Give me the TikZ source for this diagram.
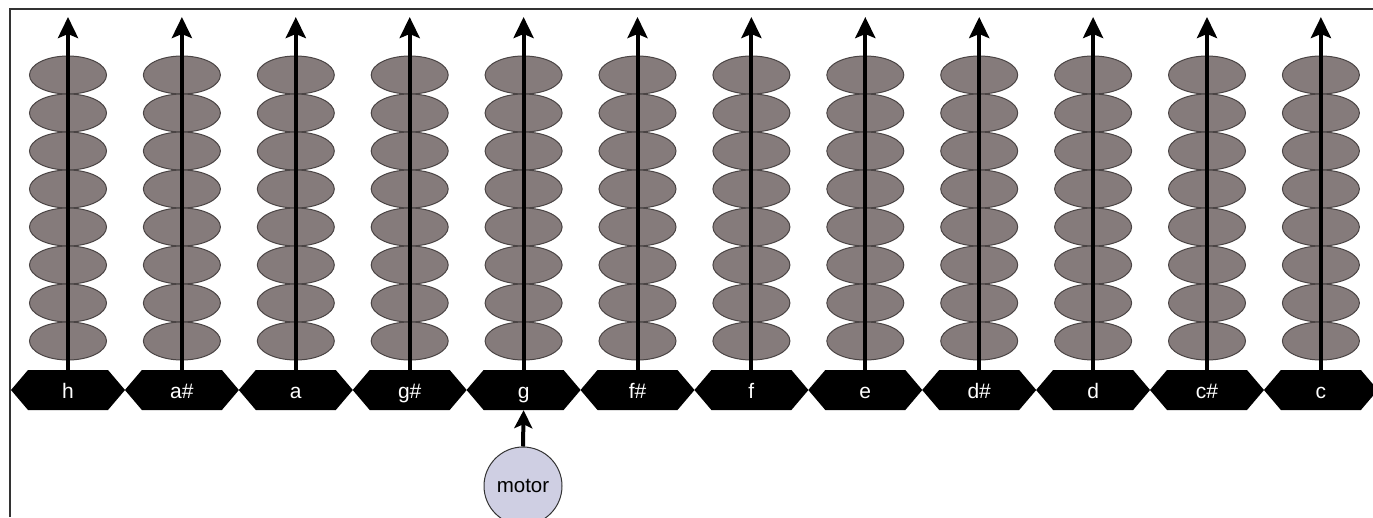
\documentclass[tikz,border=0pt]{standalone}
\usepackage{fontspec}
\setmainfont{Liberation Sans}
\usetikzlibrary{arrows.meta,shapes.geometric}
\definecolor{beadfill}{HTML}{857B7B}
\definecolor{beaddraw}{HTML}{4A4444}
\definecolor{motorfill}{HTML}{CFCFE3}
\definecolor{framecol}{HTML}{333333}
\tikzset{
  bead/.style={ellipse,draw=beaddraw,fill=beadfill,line width=1pt,minimum width=77pt,minimum height=38pt,inner sep=0pt},
  hexlabel/.style={minimum width=80pt,minimum height=40pt,inner sep=0pt,text height=16pt,text depth=0pt,text=white,font=\fontsize{21}{22}\selectfont},
  hexshape/.style={fill=black},
  axle/.style={line width=4pt,-{Stealth[length=21pt,width=20pt,inset=4pt]}},
  motoraxle/.style={line width=4pt,-{Stealth[length=18pt,width=18pt,inset=4pt]}},
  motorstyle/.style={circle,draw=framecol,fill=motorfill,line width=1pt,minimum size=78pt,inner sep=0pt,font=\fontsize{20.5}{22}\selectfont},
  framestyle/.style={draw=framecol,line width=1.6pt}
}
\begin{document}
\begin{tikzpicture}[x=1pt,y=-1pt]
\useasboundingbox (0,0) rectangle (1373,517);
\fill[white] (0,0) rectangle (1373,517);
\draw[framestyle] (10,517) -- (10,9) -- (1373,9);
\foreach \lab [count=\i from 0] in {h,a\#,a,g\#,g,f\#,f,e,d\#,d,c\#,c}{
  \pgfmathsetmacro{\cx}{68+113.9*\i}
  \fill[hexshape] (\cx-57,390) -- (\cx-40,370) -- (\cx+40,370) -- (\cx+57,390) -- (\cx+40,410) -- (\cx-40,410) -- cycle;
  \node[hexlabel] (hex\i) at (\cx,390) {\lab};
  \foreach \j in {0,...,7}{
    \node[bead] (bead\i-\j) at (\cx,{75+38*\j}) {};
  }
  \coordinate (top\i) at (\cx,17);
  \draw[axle] (hex\i.north) -- (top\i);
}
\node[motorstyle] (motor) at (523,486) {motor};
\draw[motoraxle] (motor.north) -- (hex4.south);
\end{tikzpicture}
\end{document}
